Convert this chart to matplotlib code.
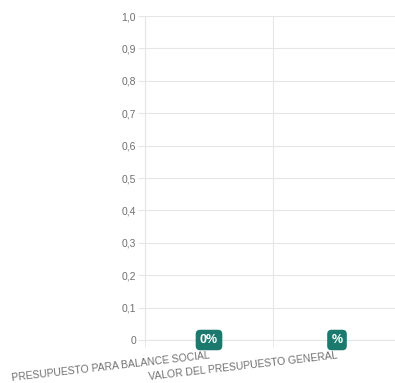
import numpy as np
import matplotlib.pyplot as plt
from matplotlib.ticker import FuncFormatter

########### Data ###########

categories = ['PRESUPUESTO PARA BALANCE SOCIAL', 'VALOR DEL PRESUPUESTO GENERAL']
values = [0, 0]
value_labels = ['0%', '%']
y_ticks = [0, 0.1, 0.2, 0.3, 0.4, 0.5, 0.6, 0.7, 0.8, 0.9, 1.0]

grid_col = '#e6e6e6'
text_col = '#707070'
teal = '#1b7a6d'

plt.rcParams['font.family'] = ['Liberation Sans', 'DejaVu Sans']

W, H = 395, 383
fig = plt.figure(figsize=(W / 100, H / 100), dpi=100)
ax = fig.add_axes([145 / W, 1 - 340 / H, 256 / W, 324 / H])

x = np.arange(len(categories))
ax.bar(x, values, width=0.8, color=teal)
ax.set_xlim(-0.5, len(categories) - 0.5)
ax.set_ylim(0, 1.0)

# y axis
ax.set_yticks(y_ticks)
ax.yaxis.set_major_formatter(FuncFormatter(
    lambda v, p: '0' if v == 0 else ('%.1f' % v).replace('.', ',')))
ax.tick_params(axis='y', length=5, color=grid_col, labelcolor=text_col,
               labelsize=7.5, pad=1.5)
ax.grid(axis='y', color=grid_col, linewidth=0.8)

# x axis: gridlines between categories
ax.set_xticks(x)
ax.set_xticks(np.arange(len(categories) + 1) - 0.5, minor=True)
ax.set_xticklabels(categories, rotation=6.5, ha='right',
                   rotation_mode='anchor')
ax.tick_params(axis='x', which='major', length=0, labelcolor=text_col,
               labelsize=7.5, pad=7.5)
ax.tick_params(axis='x', which='minor', length=5, color=grid_col)
ax.grid(axis='x', which='minor', color=grid_col, linewidth=0.8)
ax.set_axisbelow(True)

for s in ['top', 'right']:
    ax.spines[s].set_visible(False)
ax.spines['left'].set_color(grid_col)
ax.spines['bottom'].set_color(grid_col)

# value labels
for xi, v, lab in zip(x, values, value_labels):
    ax.text(xi, v, lab, ha='center', va='center', color='white',
            fontsize=9, fontweight='bold', clip_on=False, zorder=5,
            bbox=dict(boxstyle='round,pad=0.34,rounding_size=0.35',
                      fc=teal, ec='none'))

plt.savefig('out.png', dpi=100)
